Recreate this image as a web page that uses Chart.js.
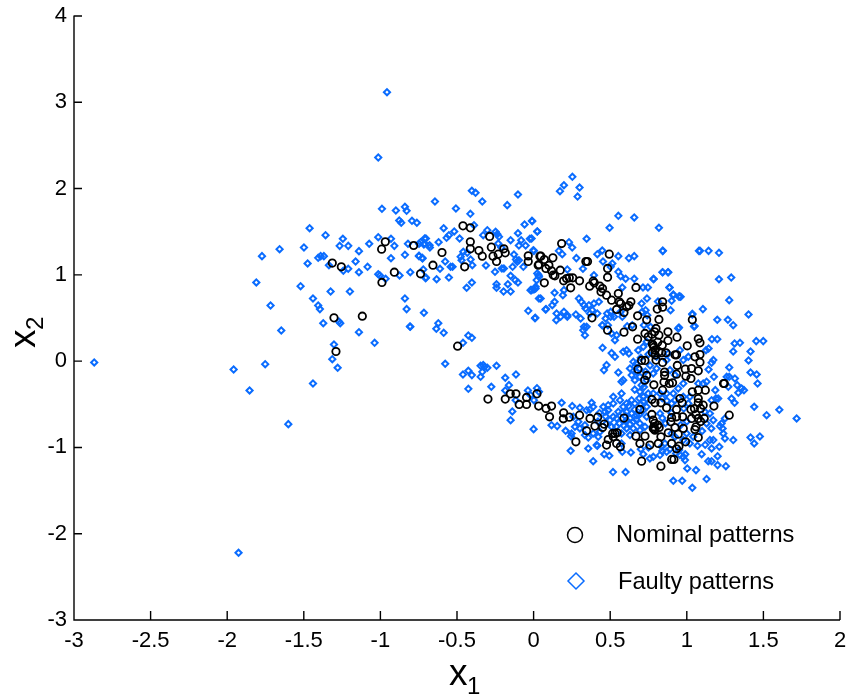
<!DOCTYPE html>
<html>
<head>
<meta charset="utf-8">
<style>html,body{margin:0;padding:0;background:#fff;overflow:hidden}canvas{display:block}</style>
<script src="https://cdn.jsdelivr.net/npm/chart.js@4/dist/chart.umd.min.js"></script>
</head>
<body>
<canvas id="c" width="852" height="695"></canvas>
<script>
const xLabel = ['x', '1'];
const yLabel = ['x', '2'];
const seriesNames = ['Nominal patterns', 'Faulty patterns'];
const xTickValues = [-3, -2.5, -2, -1.5, -1, -0.5, 0, 0.5, 1, 1.5, 2];
const yTickValues = [-3, -2, -1, 0, 1, 2, 3, 4];

const nominal = [
[-1.314,1.136],[-1.255,1.093],[-.992,1.298],[-.968,1.383],[-.909,1.031],[-.99,.912],[-.783,1.34],[-.738,1.012],[-.657,1.112],[-.598,1.259],
[-.461,1.568],[-.413,1.545],[-.413,1.383],[-.413,1.302],[-.45,1.093],[-.357,1.282],[-.335,1.217],[-.287,1.445],[-.276,1.321],[-.265,1.217],
[-.231,1.24],[-.242,1.155],[-.194,1.302],[-.185,1.255],[-.035,1.22],[-.035,1.155],[.041,1.217],[.03,1.112],[-1.303,.502],[-1.118,.521],
[-1.29,.112],[-.496,.174],[-.298,-.44],[-.185,-.44],[-.152,-.379],[-.115,-.379],[-.094,-.502],[-.046,-.502],[-.046,-.421],[.022,-.379],[.033,-.521],
[.048,1.217],[.035,1.12],[.07,1.178],[.08,1.074],[.1,1.112],[.126,1.197],[.117,1.047],[.128,.997],[.139,.989],[.174,1.054],[.183,1.363],
[.196,.931],[.215,.958],[.233,.966],[.255,.966],[.242,.85],[.3,.931],[.07,.908],[.341,1.155],[.352,1.155],[.366,.869],[.389,.927],[.396,.908],
[.433,.869],[.44,.803],[.45,.842],[.476,.765],[.494,1.24],[.483,1.074],[.483,.973],[.509,.707],[.553,.784],[.559,.688],[.542,.599],[.568,.668],
[.59,.564],[.607,.63],[.622,.645],[.635,.688],[.668,.854],[.381,.502],[.483,.359],[.59,.336],[.646,.398],[.679,.525],[.679,.255],[.738,.479],
[.727,.321],[.807,.603],[.842,.688],[.842,.626],[.818,.483],[.799,.379],[.79,.34],[.772,.313],[.748,.282],[.818,.301],[.877,.34],[.936,.278],
[.877,.239],[.84,.185],[.781,.185],[.792,.127],[.818,.108],[.836,.097],[.864,.097],[.794,.07],[.799,.012],[.705,.008],[.727,.008],[.842,-.015],
[.923,.073],[.933,.073],[1.003,.178],[1.036,.479],[1.075,.259],[1.086,.212],[1.053,.05],[1.086,.077],[1.086,-.012],[.938,-.05],[.681,-.093],
[.855,-.127],[.855,-.166],[.738,-.166],[.725,-.22],[.933,-.151],[.99,-.093],[1.031,-.085],[1.075,-.112],[.994,-.174],[1.027,-.201],[.785,-.274],
[.851,-.243],[.886,-.259],[.907,-.251],[.842,-.336],[1.245,-.259],[1.24,-.259],[1.036,-.355],[1.075,-.336],[1.121,-.336],[1.075,-.433],[.955,-.433],[.97,-.483],
[.772,-.444],[.792,-.483],[.831,-.483],[.868,-.541],[.933,-.56],[.694,-.56],[.772,-.618],[.781,-.684],[.59,-.66],[1.027,-.56],[1.075,-.483],
[1.09,-.548],[1.107,-.51],[1.177,-.521],[1.277,-.626],[.901,-.653],[.896,-.703],[.933,-.645],[.973,-.645],[1.031,-.664],[1.075,-.664],[1.114,-.664],
[.923,-.769],[.977,-.78],[1.06,-.761],[1.053,-.792],[.781,-.78],[.792,-.8],[.82,-.769],[.879,-.83],[.944,-.846],[1.075,-.885],[.668,-.869],[.727,-.869],
[.694,-.954],[.759,-.973],[.814,-.954],[.831,-.877],[.901,-.954],[.949,-.985],[.933,-1.016],[.992,-.935],[.705,-1.159],[.831,-1.217],[.901,-1.139],[.916,-1.139],
[.081,-.548],[.117,-.521],[.104,-.645],[.196,-.599],[.194,-.668],[.233,-.649],[.3,-.626],[.368,-.664],[.418,-.649],[.4,-.753],[.461,-.73],[.45,-.769],
[.346,-.807],[.276,-.935],[.476,-.973],[.487,-.908],[.516,-.838],[.531,-.838],[.546,-.83],[.52,-.877],[.542,-.954],[.566,-.993],
[.775,.2],[.785,.16],[.775,.1],[.81,.22],[.79,-.785],[.785,-.76],[.81,-.74],[.79,-.72],[1.05,-.55],[1.06,-.62],[1.09,-.7]
];

const faulty = [
[-.957,3.117],[-1.014,2.36],[-.99,1.765],[-.899,1.746],[-.84,1.788],[-.829,1.742],[-.877,1.63],[-.864,1.603],[-.794,1.626],[-.762,1.603],
[-1.462,1.541],[-1.358,1.46],[-1.245,1.418],[-1.014,1.437],[-.931,1.418],[-1.266,1.336],[-1.21,1.336],[-1.073,1.36],[-.909,1.336],[-.82,1.36],
[-.748,1.36],[-.711,1.421],[-.716,1.352],[-1.499,1.317],[-1.658,1.298],[-1.14,1.275],[-1.773,1.217],[-1.406,1.197],[-1.39,1.217],[-1.369,1.217],
[-.84,1.232],[-.748,1.217],[-.725,1.19],[-.931,1.193],[-1.162,1.155],[-1.475,1.132],[-1.336,1.112],[-1.21,1.07],[-1.242,1.047],[-1.084,1.093],
[-1.14,1.031],[-1.014,1.008],[-1.003,.993],[-.966,.954],[-.875,.993],[-.805,1.031],[-.72,1.062],[-.705,.962],[-1.81,.912],[-1.521,.869],
[-1.325,.807],[-1.199,.807],[-1.44,.726],[-1.717,.645],[-1.406,.645],[-1.395,.603],[-.84,.726],[-.829,.603],[-.716,.56],[-1.271,.46],[-1.262,.44],
[-1.373,.44],[-.805,.398],[-1.647,.355],[-1.14,.336],[-1.038,.212],[-1.303,.193],
[-2.868,-.015],[-1.958,-.097],[-1.752,-.035],[-1.854,-.34],[-1.44,-.259],[-1.601,-.73],[-1.314,.023],[-1.279,-.077],[-1.926,-2.221],
[-.644,1.85],[-.507,1.769],[-.403,1.974],[-.379,1.951],[-.335,1.85],[-.413,1.707],[-.102,1.931],[-.172,1.808],[-.059,1.584],[-.011,1.626],
[-.587,1.541],[-.518,1.503],[-.553,1.46],[-.568,1.429],[-.483,1.421],[-.62,1.379],[-.703,1.421],[-.679,1.344],[-.711,1.363],[-.738,1.379],
[-.677,1.317],[-.748,1.221],[-.727,1.197],[-.577,1.155],[-.611,1.07],[-.542,1.093],[-.529,1.093],[-.476,1.209],[-.459,1.267],[-.411,1.178],
[-.4,1.112],[-.433,1.255],[-.311,1.109],[-.252,1.035],[-.207,1.074],[-.194,1.074],[-.137,1.093],[-.067,1.093],[-.096,1.17],[-.128,1.236],
[-.115,1.178],[-.107,1.151],[-.15,1.402],[-.102,1.483],[-.081,1.402],[-.096,1.34],[-.052,1.34],[-.024,1.418],[-.002,1.286],[.024,1.503],
[-.302,1.518],[-.329,1.46],[-.248,1.499],[-.237,1.472],[-.226,1.441],[-.231,1.363],[-.211,1.317],[-.389,1.576],[-.47,1.17],[-.703,.969],
[-.633,.95],[-.553,.969],[-.437,.85],[-.403,.911],[-.242,.892],[-.242,.85],[-.168,.892],[-.196,.807],[-.15,.807],[-.15,.989],[-.12,.939],
[-.102,.911],[-.02,.823],[.013,.842],[.033,.996],[.02,.939],[.035,.726],[-.035,.583],[.011,.502],[-.622,.44],[-.807,.402],
[-.635,.375],[-.587,.328],[-.426,.297],[-.403,.27],[-.461,.212],[-.577,-.031],[-.426,-.112],[-.461,-.155],[-.403,-.162],[-.346,-.054],[-.329,-.046],
[-.32,-.066],[-.302,-.077],[-.242,-.054],[-.335,-.124],[-.346,-.182],[-.115,-.155],[-.185,-.193],[-.161,-.278],[-.276,-.297],[-.426,-.321],
[-.185,-.34],[-.117,-.452],[-.139,-.583],[-.15,-.684],[0,-.788],[-.037,-.34],[.022,-.313],[.002,-.452],[-.02,-.394],[.035,-.355],
[.253,2.136],[.198,2.039],[.172,1.97],[.3,2.012],[.287,1.907],[.553,1.684],[.657,1.665],[.496,1.545],[.818,1.545],[.346,1.418],[.231,1.379],
[.252,1.317],[.842,1.278],[1.079,1.278],[.448,1.282],[.416,1.24],[.279,1.194],[.553,1.217],[.622,1.194],[.657,1.217],[.453,1.155],[.514,1.132],
[.503,1.093],[.322,1.07],[.187,1.24],[.165,1.278],[.002,1.278],[-.009,1.622],[.024,1.503],[-.013,1.421],[.22,1.062],[.553,1.035],[.568,.985],
[.601,.954],[.657,.954],[.783,.95],[.842,1.031],[.877,1.031],[.579,.854],[.714,.854],[.746,.854],[.888,.854],[.912,.772],[.951,.753],[.901,.699],
[.812,.691],[.705,.668],[.74,.726],[.394,.996],[.024,1.016],[.035,.977],[.013,.861],[.002,.83],[-.013,.823],[.046,.726],[.137,.792],[.198,.823],
[.191,.765],[.137,.688],[.122,.649],[.078,.599],[.009,.498],[.15,.552],[.198,.572],[.176,.514],[.22,.514],[.148,.475],[.276,.541],[.307,.494],
[.296,.726],[.311,.688],[.329,.649],[.361,.649],[.394,.668],[.426,.688],[.339,.61],[.383,.591],[.368,.552],[.416,.552],[.329,.398],[.448,.417],
[.48,.552],[.503,.572],[.47,.494],[.503,.514],[.525,.514],[.568,.572],[.485,.417],[.579,.514],[.709,.572],[.731,.591],[.742,.533],[.894,.591],
[1.036,.548],[1.047,.402],[.949,.39],[.611,.405],[.644,.417],[.72,.417],[.763,.398],[.081,.603],[.22,.533],[.542,.301],[.509,.321],[.45,.417],
[.531,.243],[.335,.301],[.324,.359],[.346,.398],
[1.086,1.278],[1.142,1.278],[1.21,1.255],[1.21,.95],[1.29,.969],[1.277,.707],[1.403,.541],[1.199,.479],[1.268,.479],[1.303,.417],[1.105,.603],
[1.036,.541],[1.051,.406],[.944,.379],[.949,.745],[.96,.745],[.912,.765],[.886,.854],[.783,.954],[.842,1.031],[.879,1.031],[.844,1.278],
[1.164,.255],[1.199,.255],[1.142,.147],[1.125,.127],[1.303,.112],[1.312,.205],[1.347,.212],[1.453,.232],[1.499,.232],[1.416,.112],[1.403,.008],
[1.277,-.073],[1.173,.012],[1.162,-.019],[1.142,-.097],[1.177,-.182],[1.26,-.182],[1.277,-.182],[1.314,-.201],[1.416,-.131],[1.456,-.154],[1.462,-.259],
[1.329,-.278],[1.358,-.317],[1.373,-.336],[1.336,-.367],[1.186,-.336],[1.129,-.239],[1.107,-.259],[1.075,-.259],[1.271,-.297],[1.19,-.433],[1.205,-.433],
[1.162,-.452],[1.292,-.433],[1.312,-.483],[1.44,-.529],[1.521,-.626],[1.604,-.564],[1.717,-.664],[1.249,-.664],[1.227,-.722],[1.216,-.753],[1.234,-.78],
[1.238,-.838],[1.173,-.915],[1.249,-.896],[1.303,-.915],[1.416,-.885],[1.477,-.873],[1.44,-.954],[1.212,-.993],[1.162,-1.012],[1.097,-1.078],[1.201,-1.101],
[1.14,-1.159],[1.162,-1.159],[1.201,-1.205],[1.255,-1.217],[1.003,-1.244],[1.06,-1.263],[1.129,-1.367],[.97,-1.387],[.912,-1.387],[1.036,-1.468],
[.977,-1.109],[.955,-1.089],[.988,-1.147],[.868,-1.051],[.825,-1.089],[.781,-1.109],[.759,-1.128],[.716,-1.078],[.6,-1.286],[.518,-1.286],[.389,-1.159],
[.242,-1.039],[.357,-1.012],[.416,-.981],[.461,-1.078],[.494,-1.097],[.579,-1.051],[.635,-1.058],
[.183,-.483],[.252,-.521],[.302,-.541],[.346,-.568],[.379,-.483],[.389,-.529],[.368,-.56],[.455,-.529],[.487,-.51],[.466,-.587],[.487,-.568],[.52,-.491],
[.52,-.413],[.574,-.375],[.564,-.452],[.585,-.529],[.607,-.491],[.64,-.452],[.661,-.491],[.553,-.587],[.607,-.587],[.64,-.606],[.672,-.626],[.52,-.645],
[.542,-.664],[.607,-.684],[.651,-.703],[.694,-.722],[.727,-.761],[.607,-.78],[.651,-.78],[.694,-.8],[.574,-.838],[.629,-.857],[.117,-.742],[.154,-.753],
[.209,-.807],[.244,-.869],[.27,-.761],[.302,-.78],[.335,-.742],[.259,-.645],[.292,-.703],[.357,-.885],[.389,-.838],[.422,-.877],[.433,-.819],[.411,-.973],
[.248,-.838],[.335,-.857],[.476,-.722],[.509,-.761],[.498,-.684],[.574,-.954],
[.45,.154],[.509,.093],[.531,.05],[.476,-.046],[.459,-.104],[.553,-.131],[.585,-.22],[.574,-.239],[.607,.127],[.585,.108],[.622,.089],[.651,-.008],
[.629,-.085],[.661,-.066],[.64,-.162],[.672,-.124],[.661,-.22],[.694,-.182],[.705,-.278],[.738,-.22],[.694,-.355],[.716,-.413],[.748,-.375],[.781,-.375],
[.825,-.375],[.868,-.375],[.912,-.375],[.944,-.317],[.977,-.259],[.803,-.085],[.781,-.143],[.89,-.104],[.923,-.162],[.977,.012],[1.01,.05],[.955,.127],
[.879,.089],[.716,.166],[.738,.224],[.683,.127],[.868,.012],[.803,.05],[.977,-.413],[1.02,-.413],[1.01,-.491],[.923,-.452],[.901,-.491],[.716,-.471],
[.738,-.529],[.825,-.606],[.738,-.645],[.716,-.568],[.923,-.877],[.901,-.838],[.857,-.954],[.836,-.993],[1.02,-.954],[.977,-.915],[1.151,-.915],
[1.129,-.722],[1.151,-.606],[1.118,-.587],[1.173,-.684],[.999,-.838],[1.042,-.877],
[.62,-.52],[.66,-.56],[.69,-.62],[.6,-.64],[.58,-.6],[.63,-.66],[.56,-.72],[.59,-.75],[.63,-.73],[.67,-.68],[.54,-.76],[.47,-.64],[.43,-.6],[.42,-.7],
[.69,-.43],[.66,-.33],[.72,-.3],[.67,-.03],[.69,-.09],[.7,.04],[.73,-.12],[.76,-.05],[.75,.08],[.9,-.6],[.84,-.66],[.86,-.72],[.98,-.55],[1.0,-.7],[.96,-.74],
[.84,-.43],[.87,-.46],[.74,-.44],[.7,-.5],[1.16,-.78],[1.1,-.81],[1.12,-.97],[1.07,-.98],[.95,-1.03],[.99,-1.08],[.93,-1.07],[.89,-1.02],[.84,-1.04],[.75,-1.0],[.7,-1.02]
];

const BLUE = '#0a6cff';
const INK = '#000000';
const FONT = '"Liberation Sans", Arial, sans-serif';

const toPoints = rows => rows.map(r => ({x: r[0], y: r[1]}));

const inwardTicks = {
  id: 'inwardTicks',
  afterDatasetsDraw(chart) {
    const {ctx, chartArea: a, scales: {x, y}} = chart;
    ctx.save();
    ctx.strokeStyle = INK;
    ctx.lineWidth = 1.4;
    ctx.beginPath();
    ctx.moveTo(a.left, a.top - 0.5);
    ctx.lineTo(a.left, a.bottom);
    ctx.lineTo(a.right, a.bottom);
    xTickValues.forEach(v => { const p = x.getPixelForValue(v); ctx.moveTo(p, a.bottom); ctx.lineTo(p, a.bottom - 9); });
    yTickValues.forEach(v => { const p = y.getPixelForValue(v); ctx.moveTo(a.left, p); ctx.lineTo(a.left + 8, p); });
    ctx.stroke();
    ctx.restore();
  }
};

const annotations = {
  id: 'annotations',
  afterDraw(chart) {
    const ctx = chart.ctx;
    ctx.save();
    ctx.fillStyle = INK;
    ctx.textBaseline = 'alphabetic';
    // x axis title
    ctx.textAlign = 'left';
    ctx.font = '37px ' + FONT;
    ctx.fillText(xLabel[0], 449, 685);
    ctx.font = '24px ' + FONT;
    ctx.fillText(xLabel[1], 467, 694);
    // y axis title
    ctx.translate(35, 348);
    ctx.rotate(-Math.PI / 2);
    ctx.font = '37px ' + FONT;
    ctx.fillText(yLabel[0], 0, 0);
    ctx.font = '24px ' + FONT;
    ctx.fillText(yLabel[1], 18, 8);
    ctx.restore();
    // legend
    ctx.save();
    ctx.fillStyle = INK;
    ctx.font = '23.6px ' + FONT;
    ctx.textAlign = 'left';
    ctx.textBaseline = 'alphabetic';
    ctx.fillText(seriesNames[0], 616, 542);
    ctx.fillText(seriesNames[1], 618, 589);
    ctx.lineWidth = 1.5;
    ctx.strokeStyle = INK;
    ctx.beginPath();
    ctx.arc(575, 535, 7.5, 0, Math.PI * 2);
    ctx.stroke();
    ctx.strokeStyle = BLUE;
    ctx.beginPath();
    ctx.moveTo(576, 573);
    ctx.lineTo(584, 581);
    ctx.lineTo(576, 589);
    ctx.lineTo(568, 581);
    ctx.closePath();
    ctx.stroke();
    ctx.restore();
  }
};

const noPad = s => { s.paddingTop = 0; s.paddingBottom = 0; s.paddingLeft = 0; s.paddingRight = 0; };

new Chart(document.getElementById('c'), {
  type: 'scatter',
  data: {
    datasets: [
      {label: seriesNames[0], data: toPoints(nominal), pointStyle: 'circle', pointRadius: 3.7, pointBorderWidth: 1.8,
       pointBackgroundColor: 'rgba(0,0,0,0)', pointBorderColor: INK, order: 0},
      {label: seriesNames[1], data: toPoints(faulty), pointStyle: 'rectRot', pointRadius: 3.1, pointBorderWidth: 2,
       pointBackgroundColor: 'rgba(0,0,0,0)', pointBorderColor: BLUE, order: 1}
    ]
  },
  options: {
    responsive: false,
    animation: false,
    events: [],
    layout: {padding: {top: 16, right: 12, left: 0, bottom: 0}},
    plugins: {legend: {display: false}, tooltip: {enabled: false}},
    scales: {
      x: {
        type: 'linear', min: -3, max: 2,
        afterBuildTicks: s => { s.ticks = xTickValues.map(v => ({value: v})); },
        afterFit: s => { s.height = 75; noPad(s); },
        border: {display: false},
        grid: {display: false, drawTicks: false},
        ticks: {color: INK, font: {family: FONT, size: 22}, padding: 8, maxRotation: 0, autoSkip: false, callback: v => String(v)}
      },
      y: {
        type: 'linear', min: -3, max: 4,
        afterBuildTicks: s => { s.ticks = yTickValues.map(v => ({value: v})); },
        afterFit: s => { s.width = 74; noPad(s); },
        border: {display: false},
        grid: {display: false, drawTicks: false},
        ticks: {color: INK, font: {family: FONT, size: 22}, padding: 7, autoSkip: false, callback: v => String(v)}
      }
    }
  },
  plugins: [inwardTicks, annotations]
});
</script>
</body>
</html>
